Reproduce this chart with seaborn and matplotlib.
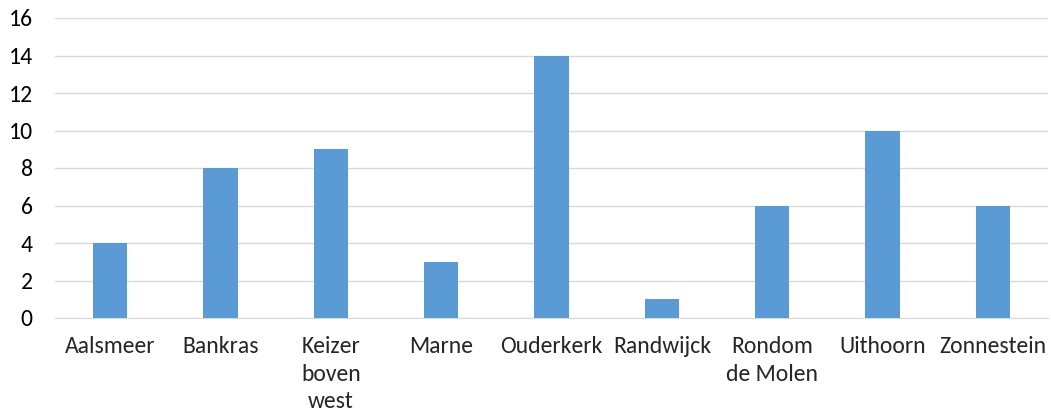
import matplotlib
matplotlib.use("Agg")
import matplotlib.pyplot as plt
import seaborn as sns
import pandas as pd

categories = ["Aalsmeer", "Bankras", "Keizer\nboven\nwest", "Marne", "Ouderkerk",
              "Randwijck", "Rondom\nde Molen", "Uithoorn", "Zonnestein"]
values = [4, 8, 9, 3, 14, 1, 6, 10, 6]
yticks = [0, 2, 4, 6, 8, 10, 12, 14, 16]

sns.set_style("white")
plt.rcParams['font.family'] = ['Carlito', 'Liberation Sans', 'DejaVu Sans']

df = pd.DataFrame({"cat": categories, "val": values})

fig = plt.figure(figsize=(10.51, 4.18), dpi=100)
ax = fig.add_axes([55/1051, 1-318/418, (1048-55)/1051, 300/418])
sns.barplot(data=df, x="cat", y="val", color="#5B9BD5", width=0.31, saturation=1,
            linewidth=0, ax=ax, zorder=3)

ax.set_ylim(0, 16)
ax.set_yticks(yticks)
ax.set_yticklabels([str(t) for t in yticks], fontsize=17, color="#000000")
ax.grid(axis="y", color="#D9D9D9", linewidth=1, zorder=0)
ax.set_axisbelow(True)
for s in ["top", "right", "left"]:
    ax.spines[s].set_visible(False)
ax.spines["bottom"].set_color("#D9D9D9")
ax.tick_params(axis="y", length=0, pad=16)
ax.tick_params(axis="x", length=0, pad=13, labelsize=17)
for lbl in ax.get_xticklabels():
    lbl.set_verticalalignment("top")
    lbl.set_linespacing(1.38)
ax.set_xlabel("")
ax.set_ylabel("")
ax.set_xlim(-0.5, 8.5)

fig.savefig("out.png", dpi=100)
